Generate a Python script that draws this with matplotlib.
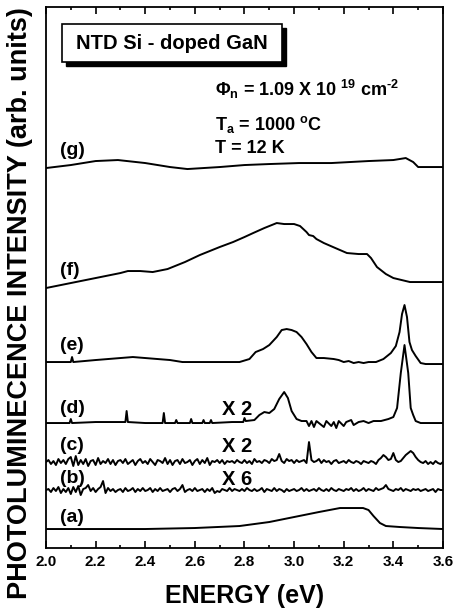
#!/usr/bin/env python3
import numpy as np
import matplotlib.pyplot as plt
from matplotlib.patches import Rectangle

plt.rcParams["font.family"] = ["Liberation Sans", "DejaVu Sans"]
plt.rcParams["font.weight"] = "bold"
plt.rcParams["mathtext.fontset"] = "custom"
plt.rcParams["mathtext.rm"] = "Liberation Sans:bold"
plt.rcParams["mathtext.it"] = "Liberation Sans:bold"
plt.rcParams["mathtext.bf"] = "Liberation Sans:bold"

labels = ["(a)", "(b)", "(c)", "(d)", "(e)", "(f)", "(g)"]
# vertical offset of each trace (arb. units)
offsets = [19, 58, 86, 125, 186, 258, 372]

# (a) smooth band near 3.2 eV
a_e = [2.0, 2.4, 2.6, 2.78, 2.9, 3.0, 3.1, 3.185, 3.22, 3.278, 3.3, 3.32, 3.346, 3.37, 3.427, 3.5, 3.6]
a_i = [0, 0, 1, 3, 7, 12, 17, 21, 21, 21, 19, 13, 6, 3, 2, 1, 0]

# (b) and (c) noisy traces, one value every 10 meV from 2.00 to 3.60 eV
grid_e = np.linspace(2.0, 3.6, 161)
b_i = [0, 1, -2, 2, -1, 3, -3, 1, -2, 2,
       -4, 3, -2, 4, -5, 1, 2, 5, -1, 2,
       -2, 1, 3, 9, -3, 2, -1, 1, -2, 0,
       1, -2, 2, -1, 0, 2, -2, 1, -1, 2,
       -1, 0, 2, -2, 1, -1, 2, -1, 0, 1,
       -2, 1, 2, -1, 1, 5, -2, 0, 1, -1,
       2, -1, 0, 1, -2, 1, -1, 2, -3, -1,
       -2, 1, 0, -1, 2, -1, 1, 0, -1, 1,
       -1, 2, 0, -1, 1, -1, 0, 2, -2, 1,
       0, -1, 2, -1, 1, 0, -2, 1, -1, 0,
       1, -1, 0, 2, -1, 1, -1, 0, 1, -1,
       2, 0, -1, 1, -1, 2, 0, -1, 1, 0,
       -1, 1, 0, 2, -1, 1, -1, 0, 2, -1,
       1, 0, -1, 2, 0, 1, 2, 5, 1, 0,
       -1, 1, 0, 2, -1, 1, 0, -1, 1, 0,
       1, -1, 0, 1, -1, 0, 1, -2, 1, 0,
       0]
c_i = [0, 2, -2, 1, -3, 3, -1, 2, -2, 3,
       5, -4, 6, -3, 2, -2, 3, -4, 1, 2,
       -3, 4, -2, 1, -1, 3, -2, 2, -3, 1,
       2, -1, 3, -2, 0, 2, -3, 1, 3, -1,
       1, -2, 3, 0, -3, 2, 1, -1, 4, -2,
       2, -3, 1, 2, -2, 3, -1, 0, 2, -3,
       1, 3, -2, 2, -1, 4, -3, 1, 0, 2,
       -1, 2, -2, 1, 0, 1, -1, 2, 0, -1,
       2, -1, 1, -2, 3, 0, 1, -1, 2, 1,
       -1, 3, 1, 2, 8, 1, -1, 3, 1, 2,
       -1, 2, 0, 1, 2, -1, 20, 2, 0, 1,
       3, -1, 2, 0, 1, -2, 1, 2, -1, 0,
       1, -1, 2, 0, -1, 1, 0, -2, 1, 0,
       -1, 1, 0, -2, 2, 4, 7, 5, 2, 3,
       9, 2, 0, 1, 4, 7, 9, 11, 9, 5,
       2, 0, -1, 1, -2, 0, -2, 1, -1, -2,
       0]

# (d) two bands plus spikes
d_e = [2.0, 2.095, 2.10, 2.105, 2.2, 2.32, 2.325, 2.33, 2.4, 2.47, 2.475, 2.48,
       2.52, 2.525, 2.53, 2.58, 2.585, 2.59, 2.63, 2.635, 2.64, 2.66, 2.665, 2.67,
       2.75, 2.795, 2.80, 2.805, 2.84, 2.86, 2.88, 2.90, 2.92, 2.94, 2.96, 2.975,
       2.99, 3.01, 3.03, 3.05, 3.06, 3.07, 3.08, 3.09, 3.10, 3.12, 3.13, 3.15,
       3.16, 3.17, 3.18, 3.20, 3.21, 3.23, 3.24, 3.26, 3.28, 3.30, 3.32, 3.35,
       3.38, 3.40, 3.415, 3.43, 3.445, 3.46, 3.47, 3.48, 3.49, 3.51, 3.6]
d_i = [0, 0, 4, 0, 1, 1, 12, 1, 0, 0, 10, 0,
       0, 3, 0, 0, 4, 0, 0, 3, 0, 0, 3, 0,
       1, 1, 5, 2, 3, 8, 11, 10, 14, 24, 31, 25,
       12, 4, 2, 2, -3, 2, -4, 2, 0, -4, 2, -3,
       1, -5, 2, -3, 1, 3, -2, 1, 2, 0, 2, 2,
       4, 6, 15, 50, 78, 50, 15, 8, 2, 0, 0]

# (e)
e_e = [2.0, 2.1, 2.105, 2.11, 2.2, 2.3, 2.35, 2.4, 2.5, 2.55, 2.7, 2.78, 2.82,
       2.845, 2.875, 2.90, 2.93, 2.95, 2.97, 2.99, 3.01, 3.03, 3.05, 3.07, 3.09,
       3.12, 3.16, 3.18, 3.20, 3.22, 3.24, 3.26, 3.28, 3.30, 3.33, 3.36, 3.39,
       3.41, 3.425, 3.435, 3.445, 3.455, 3.465, 3.475, 3.49, 3.51, 3.53, 3.6]
e_i = [0, 0, 5, 0, 2, 4, 5, 4, 2, 0, 0, 0, 3,
       10, 13, 17, 25, 32, 33, 32, 30, 25, 18, 10, 4,
       4, 3, 2, 0, 1, -1, 0, -1, 0, 0, 3, 9,
       16, 30, 48, 57, 45, 20, 12, 6, -1, -2, -2]

# (f) broad band
f_e = [2.0, 2.1, 2.2, 2.3, 2.33, 2.38, 2.43, 2.49, 2.51, 2.56, 2.62, 2.7, 2.754,
       2.8, 2.835, 2.88, 2.93, 2.96, 3.0, 3.024, 3.05, 3.06, 3.077, 3.09, 3.12,
       3.157, 3.213, 3.26, 3.294, 3.31, 3.334, 3.37, 3.40, 3.467, 3.6]
f_i = [2, 7, 12, 17, 19, 19, 18, 21, 23, 28, 35, 43, 48,
       53, 57, 62, 67, 66, 66, 64, 58, 55, 54, 51, 47,
       43, 37, 36, 36, 32, 23, 16, 12, 8, 8]

# (g) nearly flat
g_e = [2.0, 2.1, 2.2, 2.29, 2.4, 2.5, 2.57, 2.7, 2.8, 2.9, 3.02, 3.15, 3.3,
       3.4, 3.45, 3.48, 3.5, 3.6]
g_i = [8, 11, 15, 16, 13, 9, 7, 9, 11, 12, 13, 13, 15, 16, 18, 14, 9, 9]

traces = [(a_e, a_i), (grid_e, b_i), (grid_e, c_i), (d_e, d_i),
          (e_e, e_i), (f_e, f_i), (g_e, g_i)]

# label heights above each baseline
label_y = [12, 12, 17, 15, 17, 20, 26]
factors = {1: "X 6", 2: "X 2", 3: "X 2"}

fig = plt.figure(figsize=(4.54, 6.13), dpi=100)
ax = fig.add_axes([0.1013, 0.106, 0.8744, 0.8825])

for k, (en, inten) in enumerate(traces):
    ax.plot(en, np.array(inten) + offsets[k], color="black", lw=1.4)
    ax.text(2.055, offsets[k] + label_y[k], labels[k], fontsize=14,
            fontweight="bold", va="center", ha="left")
    if k in factors:
        ax.text(2.71, offsets[k] + label_y[k] - 1, factors[k], fontsize=14.5,
                fontweight="bold", va="center", ha="left")

# title box with shadow
ax.add_patch(Rectangle((0.0503, 0.8906), 0.554, 0.0706, transform=ax.transAxes,
                       facecolor="black", edgecolor="black", zorder=3))
ax.add_patch(Rectangle((0.0403, 0.898), 0.554, 0.0706, transform=ax.transAxes,
                       facecolor="white", edgecolor="black", lw=1.2, zorder=4))
ax.text(0.317, 0.933, "NTD Si - doped GaN", transform=ax.transAxes,
        fontsize=14.5, fontweight="bold", ha="center", va="center", zorder=5)

ax.text(0.426, 0.847, r"$\Phi_{n}$ = 1.09 X 10 $^{19}$ cm$^{\text{-2}}$",
        transform=ax.transAxes, fontsize=13, va="center", ha="left")
ax.text(0.426, 0.782, r"T$_{a}$ = 1000 $^{o}$C",
        transform=ax.transAxes, fontsize=13, va="center", ha="left")
ax.text(0.426, 0.739, "T = 12 K",
        transform=ax.transAxes, fontsize=13, va="center", ha="left")

ax.set_xlim(2.0, 3.6)
ax.set_ylim(0, 541)
ax.set_xticks(np.arange(2.0, 3.61, 0.2))
ax.set_xticks(np.arange(2.1, 3.6, 0.2), minor=True)
ax.set_xticklabels(["%.1f" % v for v in np.arange(2.0, 3.61, 0.2)])
ax.set_yticks([])
ax.tick_params(axis="x", which="both", direction="in", top=True,
               labelsize=11, pad=5, width=1.2)
ax.tick_params(axis="x", which="major", length=5)
ax.tick_params(axis="x", which="minor", length=2.5)
for s in ax.spines.values():
    s.set_linewidth(1.3)

ax.set_xlabel("ENERGY (eV)", fontsize=18, fontweight="bold", labelpad=11)
fig.text(0.044, 0.506, "PHOTOLUMINECENCE INTENSITY (arb. units)",
         rotation=90, fontsize=19.5, fontweight="bold", ha="center", va="center")

fig.savefig("out.png", dpi=100)
